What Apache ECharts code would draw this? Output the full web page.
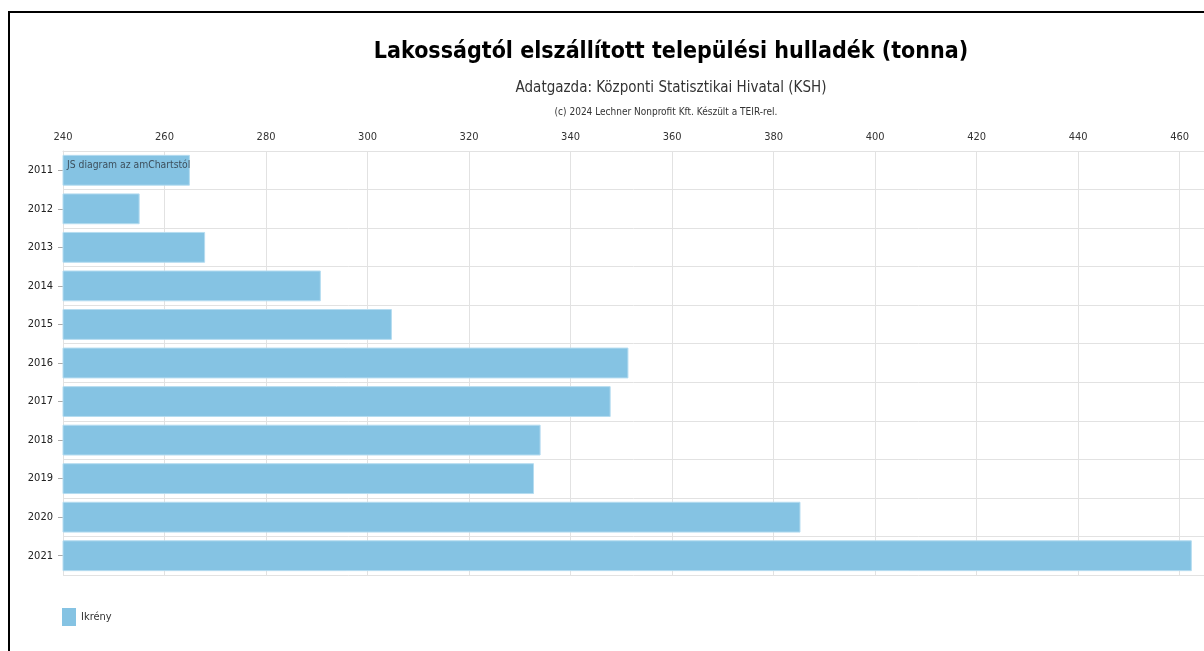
<!DOCTYPE html>
<html>
<head>
<meta charset="utf-8">
<script src="https://cdn.jsdelivr.net/npm/echarts@6/dist/echarts.min.js"></script>
<style>
  html, body { margin: 0; padding: 0; width: 1204px; height: 651px; overflow: hidden; background: #fff; }
  #chart { position: absolute; left: 0; top: 0; width: 1204px; height: 651px; }
  #frame { position: absolute; left: 8px; top: 11px; width: 1300px; height: 700px;
           border-left: 2px solid #000; border-top: 2px solid #000; pointer-events: none; }
</style>
</head>
<body>
<div id="chart"></div>
<div id="frame"></div>
<script>
const titleText = 'Lakosságtól elszállított települési hulladék (tonna)';
const subtitleText = 'Adatgazda: Központi Statisztikai Hivatal (KSH)';
const creditText = '(c) 2024 Lechner Nonprofit Kft. Készült a TEIR-rel.';
const watermarkText = 'JS diagram az amChartstól';
const seriesName = 'Ikrény';
const years = ['2011','2012','2013','2014','2015','2016','2017','2018','2019','2020','2021'];
const values = [265.0, 255.1, 268.0, 290.8, 304.8, 351.4, 347.9, 334.1, 332.8, 385.3, 462.4];
const axisMin = 240;
const axisMax = 464.8;
const axisStep = 20;

const font = '"DejaVu Sans Condensed", "DejaVu Sans", sans-serif';
const chart = echarts.init(document.getElementById('chart'));
chart.setOption({
  animation: false,
  backgroundColor: '#fff',
  grid: { left: 63, top: 151, right: 0, bottom: 76, containLabel: false },
  xAxis: {
    type: 'value', position: 'top', min: axisMin, max: axisMax, interval: axisStep,
    axisLine: { show: true, lineStyle: { color: '#e2e2e2' } },
    axisTick: { show: false },
    axisLabel: { color: '#333', fontSize: 11, fontFamily: font, margin: 8, showMaxLabel: false },
    splitLine: { show: true, lineStyle: { color: '#e2e2e2', width: 1 } }
  },
  yAxis: {
    type: 'category', data: years, inverse: true,
    axisLine: { show: true, lineStyle: { color: '#e2e2e2' } },
    axisTick: { show: true, alignWithLabel: true, length: 5, lineStyle: { color: '#aaa' } },
    axisLabel: { color: '#222', fontSize: 11, fontFamily: font, margin: 10 },
    splitLine: { show: true, lineStyle: { color: '#e2e2e2', width: 1 } }
  },
  legend: {
    left: 57, top: 603, itemWidth: 14, itemHeight: 18, itemGap: 10,
    icon: 'rect',
    itemStyle: { borderWidth: 0 },
    textStyle: { color: '#333', fontSize: 11, fontFamily: font, padding: [6, 0, 0, 0] },
    data: [seriesName]
  },
  series: [{
    type: 'bar', name: seriesName, data: values,
    barCategoryGap: '20%',
    itemStyle: { color: '#85c3e3', borderColor: '#b5dcf0', borderWidth: 1 }
  }],
  graphic: [
    { type: 'text', x: 671, y: 52, style: { text: titleText, font: 'bold 23px ' + font, fill: '#000', textAlign: 'center', textVerticalAlign: 'middle' } },
    { type: 'text', x: 671, y: 88, style: { text: subtitleText, font: '15px ' + font, fill: '#333', textAlign: 'center', textVerticalAlign: 'middle' } },
    { type: 'text', x: 666, y: 112, style: { text: creditText, font: '10px ' + font, fill: '#333', textAlign: 'center', textVerticalAlign: 'middle' } },
    { type: 'text', x: 67, y: 165, z: 100, style: { text: watermarkText, font: '10.3px ' + font, fill: '#3d4f5c', textAlign: 'left', textVerticalAlign: 'middle' } }
  ]
});
</script>
</body>
</html>
